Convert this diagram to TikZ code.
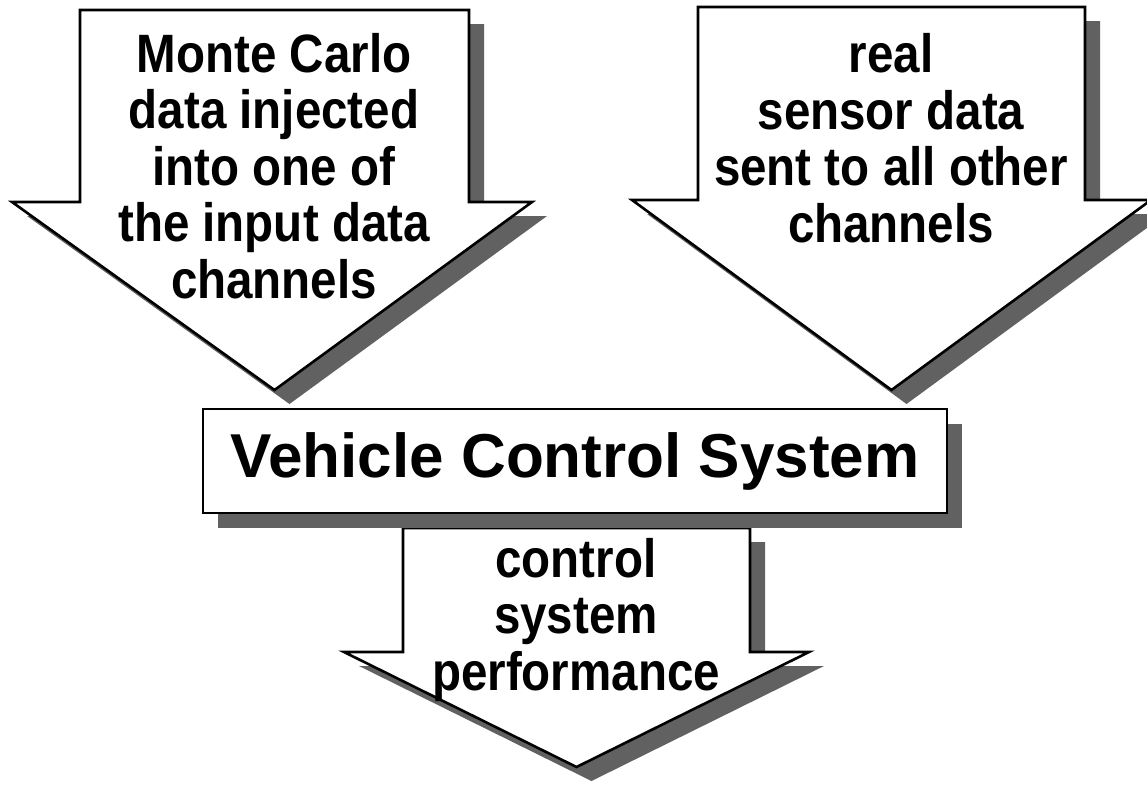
\documentclass[tikz,border=0pt]{standalone}
\usepackage{fontspec}
\setmainfont{Liberation Sans}
\newfontfamily\narrowbold[FakeStretch=0.88]{Liberation Sans Bold}
\newcommand\arrowshape[7]{(#1,#3) -- (#2,#3) -- (#2,#4) -- (#6,#4) -- ({(#1+#2)/2},#7) -- (#5,#4) -- (#1,#4) -- cycle}
\begin{document}
\begin{tikzpicture}[x=1pt,y=-1pt,
  outline/.style={draw=black,line width=2.6pt,fill=white,line join=miter},
  shadowfill/.style={fill=black!62},
  lbl/.style={font=\narrowbold\fontsize{54}{56.5}\selectfont,align=center,inner sep=0pt},
  boxstyle/.style={draw=black,line width=2.6pt,fill=white,minimum width=744pt,minimum height=104pt,inner sep=0pt,font=\bfseries\fontsize{62}{70}\selectfont}
]
\useasboundingbox (0,0) rectangle (1147,788);
\clip (0,0) rectangle (1147,788);
% left arrow
\fill[shadowfill,shift={(15,14)}] \arrowshape{80}{469}{10}{202}{12}{532}{390};
\path[outline] \arrowshape{80}{469}{10}{202}{12}{532}{390};
% right arrow
\fill[shadowfill,shift={(15,14)}] \arrowshape{698}{1085}{7}{200}{632}{1151}{390};
\path[outline] \arrowshape{698}{1085}{7}{200}{632}{1151}{390};
% bottom arrow
\fill[shadowfill,shift={(15,14)}] \arrowshape{403}{750}{528}{652}{344}{809}{767};
\path[outline] \arrowshape{403}{750}{528}{652}{344}{809}{767};
% box shadow
\fill[shadowfill] (218,424) rectangle (962,528);
\node[boxstyle] (vcs) at (575,461) {Vehicle Control System};
% labels
\node[lbl] (mc) at (274,166) {Monte Carlo\\data injected\\into one of\\the input data\\channels};
\node[lbl] (rs) at (891,138) {real\\sensor data\\sent to all other\\channels};
\node[lbl] (cp) at (576,620) {control\\system\\performance};
\end{tikzpicture}
\end{document}
